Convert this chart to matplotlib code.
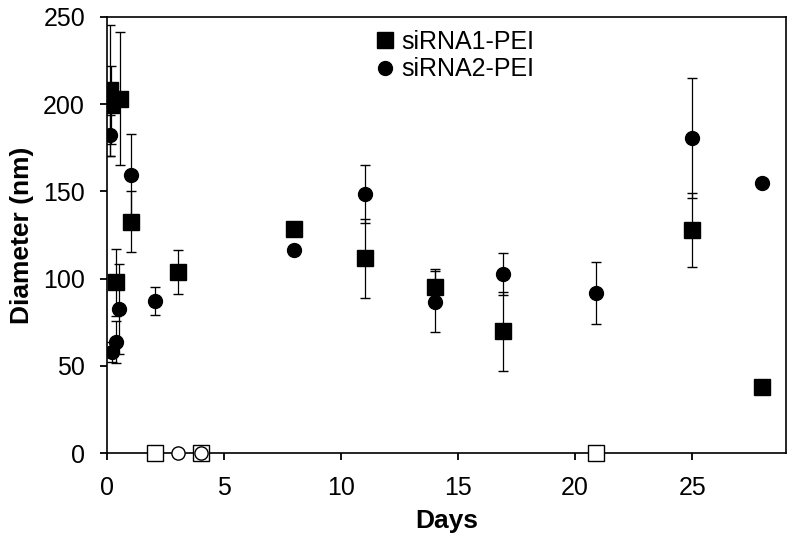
import matplotlib
matplotlib.use("Agg")
import matplotlib.pyplot as plt
from matplotlib.lines import Line2D
import numpy as np

plt.rcParams['font.family'] = ['Liberation Sans', 'DejaVu Sans']

# siRNA1-PEI (squares)
sq_days = [0.12, 0.17, 0.36, 0.56, 1.0, 3.0, 8.0, 11.0, 14.0, 16.9, 25.0, 28.0]
sq_diam = [207.8, 199.4, 97.9, 203.0, 132.6, 104.0, 128.4, 111.6, 95.4, 69.8, 127.8, 38.1]
sq_err = [37.5, 22.5, 19.0, 38.0, 17.6, 12.7, 0.0, 22.5, 10.0, 22.7, 21.3, 0.0]
sq_zero_days = [2.05, 4.0, 20.9]

# siRNA2-PEI (circles)
ci_days = [0.1, 0.19, 0.36, 0.5, 1.0, 2.05, 8.0, 11.0, 14.0, 16.9, 20.9, 25.0, 28.0]
ci_diam = [182.0, 58.0, 63.5, 82.5, 159.3, 87.2, 116.4, 148.3, 86.8, 102.7, 91.6, 180.7, 154.6]
ci_err = [12.0, 6.0, 12.0, 25.7, 23.7, 7.8, 0.0, 16.6, 17.5, 12.0, 17.7, 34.3, 0.0]
ci_zero_days = [3.0, 4.0]

labels = ['siRNA1-PEI', 'siRNA2-PEI']
x_ticks = [0, 5, 10, 15, 20, 25]
y_ticks = [0, 50, 100, 150, 200, 250]

fig = plt.figure(figsize=(7.95, 5.43), dpi=100)
ax = fig.add_axes([0.135, 0.1652, 0.8533, 0.804])

ax.errorbar(sq_days, sq_diam, yerr=sq_err, fmt='s', color='black', ms=11.5,
            mfc='black', mec='black', mew=1, ecolor='black', elinewidth=0.9,
            capsize=3.5, capthick=0.9, zorder=3)
ax.errorbar(ci_days, ci_diam, yerr=ci_err, fmt='o', color='black', ms=10,
            mfc='black', mec='black', mew=1, ecolor='black', elinewidth=0.9,
            capsize=3.5, capthick=0.9, zorder=4)

ax.plot(sq_zero_days, np.zeros(len(sq_zero_days)), 's', ms=11, mfc='white',
        mec='black', mew=1.0, clip_on=False, zorder=6)
ax.plot(ci_zero_days, np.zeros(len(ci_zero_days)), 'o', ms=9.5, mfc='white',
        mec='black', mew=1.0, clip_on=False, zorder=7)

ax.set_xlim(0, 29)
ax.set_ylim(0, 250)
ax.set_xticks(x_ticks)
ax.set_yticks(y_ticks)
ax.tick_params(axis='both', direction='out', length=5, width=1.3,
               labelsize=18, colors='black')
ax.tick_params(axis='y', pad=11)
ax.tick_params(axis='x', pad=11)
ax.tick_params(top=False, right=False)
for s in ax.spines.values():
    s.set_linewidth(1.2)
    s.set_color('black')

ax.set_xlabel('Days', fontsize=19, fontweight='bold', labelpad=7)
ax.set_ylabel('Diameter (nm)', fontsize=19, fontweight='bold', labelpad=7)

handles = [Line2D([], [], marker='s', ls='none', color='black', ms=12),
           Line2D([], [], marker='o', ls='none', color='black', ms=10)]
ax.legend(handles, labels, loc='center', bbox_to_anchor=(0.512, 0.911),
          frameon=False, fontsize=18, handlelength=0.8, handletextpad=0.25,
          labelspacing=0.15, borderpad=0.2)

fig.savefig('out.png', dpi=100)
